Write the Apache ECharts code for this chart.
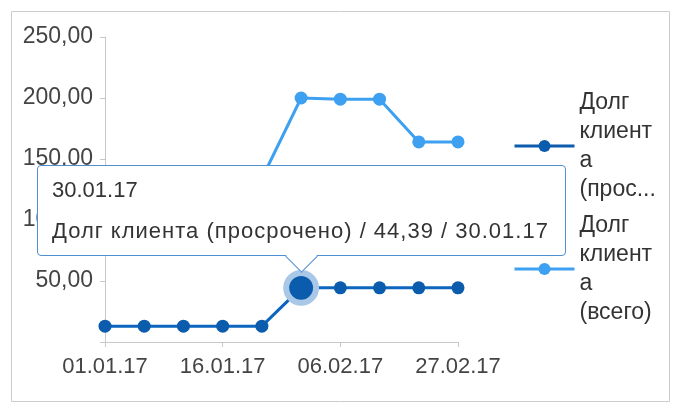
<!DOCTYPE html>
<html>
<head>
<meta charset="utf-8">
<script src="https://cdn.jsdelivr.net/npm/echarts@6/dist/echarts.min.js"></script>
<style>
  html, body { margin: 0; padding: 0; background: #fff; }
  #main { width: 673px; height: 405px; }
</style>
</head>
<body>
<div id="main"></div>
<script>
const dates = ['01.01.17', '02.01.17', '09.01.17', '16.01.17', '23.01.17', '30.01.17', '06.02.17', '13.02.17', '20.02.17', '27.02.17']
const overdue = [13, 13, 13, 13, 13, 44.39, 44.39, 44.39, 44.39, 44.39]
const total = [130, 130, 130, 131, 134, 200, 199, 199, 164, 164]
const seriesNames = ['Долг клиента (просрочено)', 'Долг клиента (всего)']
// legend text as it wraps in the original
const legendLabels = {
  'Долг клиента (просрочено)': 'Долг\nклиент\nа\n(прос...',
  'Долг клиента (всего)': 'Долг\nклиент\nа\n(всего)',
}
const shownIndex = 5

const font = '"Liberation Sans", Arial, sans-serif'
const darkBlue = '#0b5cad'
const lightBlue = '#3ea0f0'
const tipBorder = '#4e8fcf'

const fmt = (v) => v.toFixed(2).replace('.', ',')

const arrow =
  '<div style="position:absolute;left:50%;bottom:-13px;width:22px;height:22px;margin-left:-11px;' +
  'background:#fff;border-right:1px solid ' + tipBorder + ';border-bottom:1px solid ' + tipBorder + ';' +
  'transform:rotate(45deg)"></div>'

const myChart = echarts.init(document.getElementById('main'))

const option = {
  animation: false,
  textStyle: { fontFamily: font },
  graphic: [
    {
      type: 'rect',
      shape: { x: 11.5, y: 11.5, width: 658, height: 390 },
      style: { fill: 'none', stroke: '#cccccc', lineWidth: 1 },
      silent: true,
    },
  ],
  grid: {
    left: 105,
    right: 215,
    top: 37,
    bottom: 63,
  },
  tooltip: {
    trigger: 'item',
    triggerOn: 'none',
    alwaysShowContent: true,
    transitionDuration: 0,
    backgroundColor: '#fff',
    borderColor: tipBorder,
    borderWidth: 1,
    borderRadius: 4,
    padding: [11, 16, 11, 14],
    textStyle: { fontFamily: font, fontSize: 22, color: '#333' },
    extraCssText: 'box-shadow:none;white-space:nowrap;',
    position: function (point, params, dom, rect, size) {
      return [point[0] - size.contentSize[0] / 2, point[1] - size.contentSize[1] - 32]
    },
    formatter: function (p) {
      return '<div style="line-height:26px">' + p.name + '</div>' +
        '<div style="line-height:26px;margin-top:15px;letter-spacing:1px">' + p.seriesName + ' / ' + fmt(p.value) + ' / ' + p.name + '</div>' +
        arrow
    },
  },
  legend: {
    orient: 'vertical',
    left: 513,
    top: 88,
    padding: 0,
    itemGap: 7,
    itemWidth: 60,
    itemHeight: 15,
    data: seriesNames,
    lineStyle: { width: 3 },
    formatter: function (name) {
      return legendLabels[name]
    },
    textStyle: { fontFamily: font, fontSize: 23, lineHeight: 29, color: '#333' },
  },
  xAxis: {
    type: 'category',
    boundaryGap: false,
    data: dates,
    axisLine: { lineStyle: { color: '#c8c8c8', width: 1 } },
    axisTick: { interval: 2, length: 5, lineStyle: { color: '#c8c8c8' } },
    axisLabel: { interval: 2, margin: 14, fontSize: 22, color: '#444', fontFamily: font },
  },
  yAxis: {
    type: 'value',
    min: 0,
    max: 250,
    interval: 50,
    axisLine: { show: true, lineStyle: { color: '#c8c8c8', width: 1 } },
    axisTick: { show: true, length: 5, lineStyle: { color: '#c8c8c8' } },
    splitLine: { show: false },
    axisLabel: {
      margin: 12,
      fontSize: 23,
      color: '#444',
      fontFamily: font,
      formatter: function (v) {
        return v === 0 ? '' : fmt(v)
      },
    },
  },
  series: [
    {
      name: seriesNames[0],
      type: 'line',
      z: 3,
      data: overdue,
      color: darkBlue,
      symbol: 'circle',
      symbolSize: 13,
      lineStyle: { width: 3 },
      itemStyle: { color: darkBlue },
      emphasis: {
        scale: 2.3,
        focus: 'none',
        lineStyle: { width: 3 },
        itemStyle: { color: darkBlue, borderColor: '#a9c7e6', borderWidth: 6 },
      },
    },
    {
      name: seriesNames[1],
      type: 'line',
      z: 2,
      data: total,
      color: lightBlue,
      symbol: 'circle',
      symbolSize: 13,
      lineStyle: { width: 3 },
      itemStyle: { color: lightBlue },
      emphasis: { disabled: true },
    },
  ],
}

myChart.setOption(option)
myChart.dispatchAction({ type: 'highlight', seriesIndex: 0, dataIndex: shownIndex })
myChart.dispatchAction({ type: 'showTip', seriesIndex: 0, dataIndex: shownIndex })
</script>
</body>
</html>
